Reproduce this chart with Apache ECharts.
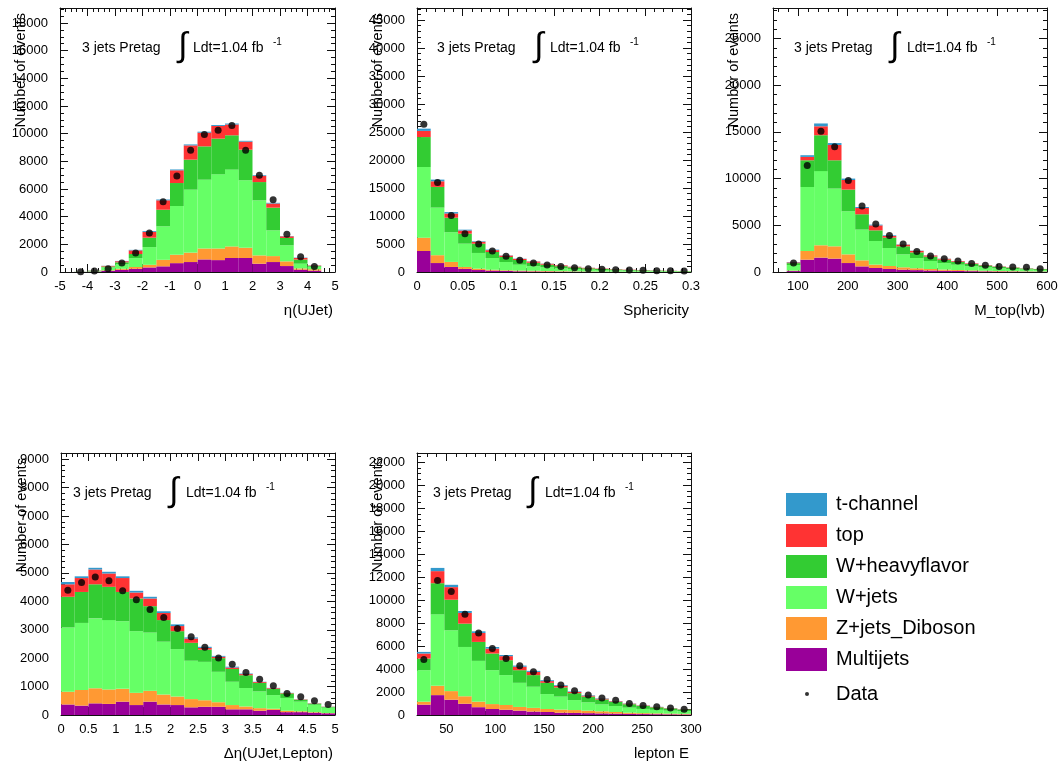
<!DOCTYPE html>
<html><head><meta charset="utf-8">
<script src="https://cdn.jsdelivr.net/npm/echarts@6/dist/echarts.min.js"></script>
<style>html,body{margin:0;padding:0;background:#fff}#c{width:1064px;height:766px}</style>
</head><body><div id="c"></div>
<script>
// ---- Panel 1: eta(UJet), 20 bins from -5 to 5 ----
const eta_Multijets = [0,5,30,80,160,230,330,410,640,720,910,860,1010,1010,600,720,430,170,100,0];
const eta_ZjetsDiboson = [0,3,10,40,70,130,190,470,610,680,790,840,840,740,600,430,340,90,100,0];
const eta_Wjets = [0,7,40,210,330,640,1280,2420,3520,4550,4970,5360,5550,4880,3980,1860,1160,340,180,0];
const eta_WHF = [0,3,15,70,140,300,680,1200,1660,2170,2410,2580,2480,2210,1320,1640,530,300,60,0];
const eta_top = [0,2,10,40,80,260,420,680,920,1030,990,910,780,580,450,300,120,110,30,0];
const eta_tchan = [0,1,5,10,20,40,60,60,60,70,70,70,70,60,50,50,20,30,10,0];
const eta_Data = [null,10,70,240,650,1370,2820,5080,6940,8800,9930,10240,10580,8800,6990,5230,2720,1110,400,null];

// ---- Panel 2: Sphericity, 20 bins from 0 to 0.3 ----
const sph_Multijets = [3750,1600,900,550,350,250,180,130,100,80,60,50,40,30,25,20,15,12,10,8];
const sph_ZjetsDiboson = [2380,1400,900,350,250,150,120,120,120,100,80,60,50,40,35,30,25,20,15,12];
const sph_Wjets = [12620,8500,5300,4160,2800,2100,1490,1050,800,650,520,420,330,280,230,190,155,130,105,90];
const sph_WHF = [5350,3700,2600,1790,1660,1070,890,840,630,480,380,300,240,190,155,125,100,80,68,55];
const sph_top = [1100,1000,750,550,340,330,250,200,220,160,140,100,85,70,55,45,37,30,25,20];
const sph_tchan = [400,300,250,160,100,100,50,40,30,30,20,20,15,10,10,10,8,8,7,5];
const sph_Data = [26400,16000,10100,6850,5000,3750,2800,2100,1620,1250,1000,780,600,480,420,360,300,240,220,200];

// ---- Panel 3: M_top(lvb), 20 bins from 50 to 600 ----
const mtop_Multijets = [0,100,1320,1540,1430,960,600,430,320,250,200,160,130,110,90,70,55,45,35,30];
const mtop_ZjetsDiboson = [0,50,930,1320,1320,930,650,360,320,250,200,160,130,100,80,65,50,45,35,30];
const mtop_Wjets = [0,600,6850,7940,6180,4610,3290,2530,1930,1390,1100,860,690,570,450,360,290,240,195,160];
const mtop_WHF = [0,200,2860,3840,3030,2320,1640,1140,1110,860,600,470,370,310,240,200,160,135,108,90];
const mtop_top = [0,80,360,960,1640,1030,670,530,180,180,160,120,95,80,60,45,37,30,22,17];
const mtop_tchan = [0,40,180,300,200,150,110,80,70,30,30,20,15,10,10,10,8,5,5,3];
const mtop_Data = [null,960,11400,15070,13400,9790,7070,5140,3900,3000,2200,1710,1430,1180,900,710,600,540,500,360];

// ---- Panel 4: Delta eta(UJet,Lepton), 20 bins from 0 to 5 ----
const deta_Multijets = [370,330,410,390,470,350,470,370,350,270,290,290,200,200,150,180,100,100,80,60];
const deta_ZjetsDiboson = [450,550,530,510,450,430,380,350,300,290,230,160,150,100,90,40,50,30,20,10];
const deta_Wjets = [2260,2360,2460,2440,2380,2170,2050,1860,1670,1350,1350,1070,820,650,590,480,450,340,260,190];
const deta_WHF = [1080,1090,1200,1170,1030,1150,930,760,630,630,430,480,450,450,300,220,160,65,40,25];
const deta_top = [440,490,520,470,490,210,270,250,180,150,60,50,50,40,30,25,15,13,10,7];
const deta_tchan = [80,60,60,60,60,60,60,60,60,40,40,30,30,20,10,10,5,5,4,3];
const deta_Data = [4390,4660,4860,4720,4370,4060,3710,3430,3040,2750,2380,2010,1790,1500,1260,1030,760,640,500,370];

// ---- Panel 5: lepton E, 20 bins from 20 to 300 ----
const lepE_Multijets = [900,1730,1330,980,680,520,460,380,300,260,200,180,160,140,120,100,80,70,60,50];
const lepE_ZjetsDiboson = [260,810,750,650,480,430,410,320,320,260,270,250,220,180,140,100,80,70,60,50];
const lepE_Wjets = [2740,6220,5290,4290,3550,2950,2600,2100,1840,1300,1130,870,720,600,520,440,370,310,260,220];
const lepE_WHF = [1010,2710,2660,2030,1650,1450,1300,1100,1010,980,800,600,500,430,360,300,260,220,190,155];
const lepE_top = [440,1050,1100,930,780,430,350,300,280,150,140,100,80,70,55,45,35,30,25,20];
const lepE_tchan = [140,280,200,170,140,140,100,100,90,80,60,50,40,30,25,20,15,12,10,8];
const lepE_Data = [4830,11700,10750,8760,7140,5780,4910,4280,3760,3090,2600,2100,1750,1480,1280,1010,830,720,620,490];

const layerNames = ['Multijets','Z+jets_Diboson','W+jets','W+heavyflavor','top','t-channel'];
const layerColors = ['#990099','#FF9933','#66FF66','#33CC33','#FF3333','#3399CC'];
const legendOrder = ['t-channel','top','W+heavyflavor','W+jets','Z+jets_Diboson','Multijets'];
const FONT = "'Liberation Sans', Arial, Helvetica, sans-serif";
const BIN_LABELS = ['b1','b2','b3','b4','b5','b6','b7','b8','b9','b10','b11','b12','b13','b14','b15','b16','b17','b18','b19','b20'];

const panels = [
  {rect:{left:60,top:8,width:275,height:264}, xmin:-5, xmax:5, xstep:1, ymax:19080, ystep:2000, yminor:4, xname:'η(UJet)',
   layers:[eta_Multijets,eta_ZjetsDiboson,eta_Wjets,eta_WHF,eta_top,eta_tchan], data:eta_Data, dx:[22,123,133]},
  {rect:{left:417,top:8,width:274,height:264}, xmin:0, xmax:0.3, xstep:0.05, ymax:47150, ystep:5000, yminor:5, xname:'Sphericity',
   layers:[sph_Multijets,sph_ZjetsDiboson,sph_Wjets,sph_WHF,sph_top,sph_tchan], data:sph_Data, dx:[20,122,133]},
  {rect:{left:773,top:8,width:274,height:264}, xmin:50, xmax:600, xstep:100, auto:true, ymax:28260, ystep:5000, yminor:5, xname:'M_top(lvb)',
   layers:[mtop_Multijets,mtop_ZjetsDiboson,mtop_Wjets,mtop_WHF,mtop_top,mtop_tchan], data:mtop_Data, dx:[21,122,134]},
  {rect:{left:61,top:453,width:274,height:262}, xmin:0, xmax:5, xstep:0.5, ymax:9220, ystep:1000, yminor:5, xname:'Δη(UJet,Lepton)',
   layers:[deta_Multijets,deta_ZjetsDiboson,deta_Wjets,deta_WHF,deta_top,deta_tchan], data:deta_Data, dx:[12,113,125]},
  {rect:{left:417,top:453,width:274,height:262}, xmin:20, xmax:300, xstep:50, auto:true, ymax:22800, ystep:2000, yminor:4, xname:'lepton E',
   layers:[lepE_Multijets,lepE_ZjetsDiboson,lepE_Wjets,lepE_WHF,lepE_top,lepE_tchan], data:lepE_Data, dx:[16,116,128]}
];

function onStep(v, step){ const r = v/step; return Math.abs(r - Math.round(r)) < 1e-6; }
function fmtNum(v){ return String(parseFloat(v.toFixed(6))); }

const grid = [], xAxis = [], yAxis = [], series = [], graphic = [];
const AX = '#111';
panels.forEach((p, i) => {
  grid.push(Object.assign({containLabel:false}, p.rect));
  xAxis.push({gridIndex:i, type:'category', data:BIN_LABELS, show:false, boundaryGap:true});
  const common = {gridIndex:i, type:'value', min:p.xmin, max:p.xmax, splitLine:{show:false},
    axisLine:{show:true, onZero:false, lineStyle:{color:AX, width:1}},
    axisTick:{show:true, inside:true, length:8, lineStyle:{color:AX}},
    minorTick:{show:true, splitNumber:5, length:4, lineStyle:{color:AX}}};
  if (!p.auto) common.interval = p.xstep; else common.splitNumber = 6;
  xAxis.push(Object.assign({}, common, {position:'bottom',
    axisLabel:{show:true, margin:8, fontSize:13, color:'#000', fontFamily:FONT,
      formatter: v => onStep(v, p.xstep) ? fmtNum(v) : ''}}));
  xAxis.push(Object.assign({}, common, {position:'top', axisLabel:{show:false}}));
  const yc = {gridIndex:i, type:'value', min:0, max:p.ymax, interval:p.ystep, splitLine:{show:false},
    axisLine:{show:true, onZero:false, lineStyle:{color:AX, width:1}},
    axisTick:{show:true, inside:true, length:8, lineStyle:{color:AX}},
    minorTick:{show:true, splitNumber:p.yminor, length:4, lineStyle:{color:AX}}};
  yAxis.push(Object.assign({}, yc, {position:'left',
    axisLabel:{show:true, margin:12, fontSize:13, color:'#000', fontFamily:FONT,
      formatter: v => onStep(v, p.ystep) ? String(v) : ''}}));
  yAxis.push(Object.assign({}, yc, {position:'right', axisLabel:{show:false}}));

  p.layers.forEach((arr, j) => {
    series.push({type:'bar', name:layerNames[j], xAxisIndex:3*i, yAxisIndex:2*i, stack:'s'+i,
      data:arr, barWidth:'100%', barCategoryGap:'0%', itemStyle:{color:layerColors[j]}, silent:true});
  });
  series.push({type:'scatter', name:'Data', xAxisIndex:3*i, yAxisIndex:2*i, data:p.data,
    symbol:'circle', symbolSize:7, itemStyle:{color:'#000'}, z:5, silent:true});

  const L = p.rect.left, T = p.rect.top, W = p.rect.width, H = p.rect.height;
  graphic.push({type:'text', x:L-39, y:T+5, rotation:Math.PI/2, z:10,
    style:{text:'Number of events', font:`14.5px ${FONT}`, fill:'#000', align:'right', verticalAlign:'middle'}});
  graphic.push({type:'text', x:L+W-2, y:T+H+39, z:10,
    style:{text:p.xname, font:`15px ${FONT}`, fill:'#000', align:'right', verticalAlign:'middle'}});
  graphic.push({type:'text', x:L+p.dx[0], y:T+40, z:10,
    style:{text:'3 jets Pretag', font:`14px ${FONT}`, fill:'#000', align:'left', verticalAlign:'middle'}});
  graphic.push({type:'text', x:L+p.dx[1], y:T+39, z:10,
    style:{text:'∫', font:`34px ${FONT}`, fill:'#000', align:'center', verticalAlign:'middle'}});
  graphic.push({type:'text', x:L+p.dx[2], y:T+40, z:10,
    style:{text:'Ldt=1.04 fb', font:`14px ${FONT}`, fill:'#000', align:'left', verticalAlign:'middle'}});
  graphic.push({type:'text', x:L+p.dx[2]+80, y:T+34, z:10,
    style:{text:'-1', font:`10px ${FONT}`, fill:'#000', align:'left', verticalAlign:'middle'}});
});

const chart = echarts.init(document.getElementById('c'), null, {renderer:'canvas'});
chart.setOption({
  animation:false,
  backgroundColor:'#fff',
  grid, xAxis, yAxis, series, graphic,
  legend:[
    {data:legendOrder.map(n => ({name:n, icon:'rect'})), orient:'vertical', left:786, top:493, padding:0,
     itemWidth:41, itemHeight:23, itemGap:8, selectedMode:false,
     textStyle:{fontSize:20, fontFamily:FONT, color:'#000', padding:[0,0,0,4]}},
    {data:[{name:'Data', icon:'circle'}], orient:'vertical', left:805, top:684, padding:0,
     itemWidth:4, itemHeight:4, selectedMode:false,
     textStyle:{fontSize:20, fontFamily:FONT, color:'#000', padding:[0,0,0,22]}}
  ]
});
</script></body></html>
